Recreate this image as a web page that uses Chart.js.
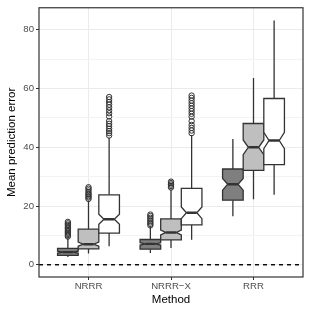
<!DOCTYPE html>
<html>
<head>
<meta charset="utf-8">
<script src="https://cdn.jsdelivr.net/npm/chart.js@4"></script>
<style>
  html, body { margin: 0; padding: 0; background: #fff; }
  #wrap { width: 310px; height: 310px; }
</style>
</head>
<body>
<div id="wrap"><canvas id="chart"></canvas></div>
<script>
// Notched boxplots, three fill groups per method

const methods = ['NRRR', 'NRRR\u2212X', 'RRR'];
const yTicks = [0, 10, 20, 30, 40, 50, 60, 70, 80];

// one row per fill group (dark, light, white), one value per method
const whiskerLow  = [[2.6, 4.0, 16.5], [3.8, 5.7, 22.3], [6.3, 8.5, 23.8]];
const lowerHinge  = [[3.2, 5.3, 22.0], [5.4, 8.5, 32.1], [10.8, 13.6, 34.1]];
const medians     = [[4.3, 7.1, 27.4], [7.0, 11.0, 40.0], [15.5, 17.7, 42.3]];
const upperHinge  = [[5.6, 8.6, 32.6], [12.1, 15.6, 48.1], [23.8, 26.0, 56.6]];
const whiskerHigh = [[9.2, 13.0, 42.8], [21.8, 25.5, 63.6], [43.2, 44.2, 83.2]];
const notchHalf   = [[0.3, 0.4, 2.0], [0.7, 0.8, 2.5], [1.7, 2.0, 2.8]];

const outliersDark  = [[9.6, 10.1, 10.5, 10.9, 11.4, 11.8, 12.3, 12.7, 13.2, 13.6, 14.1, 14.6],
                       [13.4, 13.9, 14.4, 14.9, 15.5, 16.0, 16.6, 17.1], []];
const outliersLight = [[22.4, 22.9, 23.3, 23.8, 24.2, 24.7, 25.3, 25.9, 26.4],
                       [26.3, 26.8, 27.3, 27.8, 28.3], []];
const outliersWhite = [[44.0, 44.8, 45.5, 46.3, 47.2, 48.0, 48.9, 50.5, 51.6, 52.6, 53.6, 54.5, 55.4, 56.3, 57.1],
                       [44.8, 45.7, 46.6, 47.6, 48.9, 50.4, 51.4, 52.3, 53.2, 54.1, 55.0, 55.9, 56.8, 57.6], []];
const outliers = [outliersDark, outliersLight, outliersWhite];

const fills = ['#7f7f7f', '#bfbfbf', '#ffffff'];
const dodge = [-0.25, 0, 0.25];
const boxWidth = 0.25;
const ink = '#333333';
const fontFamily = '"Liberation Sans", Arial, Helvetica, sans-serif';

const boxPlugin = {
    id: 'boxes',
    beforeDatasetsDraw(chart) {
        const { ctx, chartArea, scales: { x, y } } = chart;
        ctx.save();
        ctx.beginPath();
        ctx.rect(chartArea.left, chartArea.top, chartArea.width, chartArea.height);
        ctx.clip();
        ctx.strokeStyle = ink;
        for (let g = 0; g < fills.length; g++) {
            for (let m = 0; m < methods.length; m++) {
                const c = m + 1 + dodge[g];
                const xc = x.getPixelForValue(c);
                const x0 = x.getPixelForValue(c - boxWidth / 2);
                const x1 = x.getPixelForValue(c + boxWidth / 2);
                const indent = (x1 - x0) * 0.25;
                const yWl = y.getPixelForValue(whiskerLow[g][m]);
                const yQ1 = y.getPixelForValue(lowerHinge[g][m]);
                const yMed = y.getPixelForValue(medians[g][m]);
                const yQ3 = y.getPixelForValue(upperHinge[g][m]);
                const yWh = y.getPixelForValue(whiskerHigh[g][m]);
                const yNl = y.getPixelForValue(medians[g][m] - notchHalf[g][m]);
                const yNu = y.getPixelForValue(medians[g][m] + notchHalf[g][m]);

                // whiskers
                ctx.lineWidth = 1.3;
                ctx.beginPath();
                ctx.moveTo(xc, yQ3); ctx.lineTo(xc, yWh);
                ctx.moveTo(xc, yQ1); ctx.lineTo(xc, yWl);
                ctx.stroke();

                // notched box
                ctx.beginPath();
                ctx.moveTo(x0, yQ3);
                ctx.lineTo(x0, yNu);
                ctx.lineTo(x0 + indent, yMed);
                ctx.lineTo(x0, yNl);
                ctx.lineTo(x0, yQ1);
                ctx.lineTo(x1, yQ1);
                ctx.lineTo(x1, yNl);
                ctx.lineTo(x1 - indent, yMed);
                ctx.lineTo(x1, yNu);
                ctx.lineTo(x1, yQ3);
                ctx.closePath();
                ctx.fillStyle = fills[g];
                ctx.fill();
                ctx.stroke();

                // median
                ctx.lineWidth = 2.4;
                ctx.beginPath();
                ctx.moveTo(x0 + indent, yMed);
                ctx.lineTo(x1 - indent, yMed);
                ctx.stroke();
            }
        }
        ctx.restore();
    },
    afterDatasetsDraw(chart) {
        const { ctx, chartArea, scales: { y } } = chart;
        const y0 = y.getPixelForValue(0);
        ctx.save();
        ctx.strokeStyle = '#000';
        ctx.lineWidth = 1.4;
        ctx.setLineDash([4, 4]);
        ctx.beginPath();
        ctx.moveTo(chartArea.left, y0);
        ctx.lineTo(chartArea.right, y0);
        ctx.stroke();
        ctx.restore();
    },
    afterDraw(chart) {
        const { ctx, chartArea } = chart;
        ctx.save();
        ctx.strokeStyle = ink;
        ctx.lineWidth = 1.2;
        ctx.strokeRect(chartArea.left, chartArea.top, chartArea.width, chartArea.height);
        ctx.restore();
    }
};

const datasets = outliers.map(function(group, g) {
    const pts = [];
    group.forEach(function(vals, m) {
        vals.forEach(function(v) { pts.push({ x: m + 1 + dodge[g], y: v }); });
    });
    return {
        data: pts,
        pointStyle: 'circle',
        pointRadius: 2.7,
        borderWidth: 1,
        borderColor: ink,
        backgroundColor: 'rgba(255,255,255,0)'
    };
});

new Chart(document.getElementById('chart'), {
    type: 'scatter',
    data: { datasets: datasets },
    plugins: [boxPlugin],
    options: {
        responsive: true,
        maintainAspectRatio: false,
        animation: false,
        layout: { padding: { top: 6, right: 7, left: 0, bottom: 0 } },
        plugins: { legend: { display: false }, tooltip: { enabled: false } },
        scales: {
            x: {
                type: 'linear',
                min: 0.4,
                max: 3.6,
                afterBuildTicks: function(scale) {
                    scale.ticks = methods.map(function(_, i) { return { value: i + 1 }; });
                },
                afterFit: function(scale) { scale.height = 33; },
                border: { display: false },
                grid: { color: '#ebebeb', lineWidth: 1, tickColor: ink, tickLength: 3 },
                ticks: {
                    callback: function(v) { return methods[v - 1]; },
                    color: '#4d4d4d',
                    font: { family: fontFamily, size: 9.6 },
                    padding: 1,
                    maxRotation: 0
                },
                title: {
                    display: true,
                    text: 'Method',
                    color: '#000',
                    font: { family: fontFamily, size: 11.5 },
                    padding: { top: 0, bottom: 3 }
                }
            },
            y: {
                min: -4.17,
                max: 87.5,
                afterBuildTicks: function(scale) {
                    scale.ticks = yTicks.map(function(v) { return { value: v }; });
                },
                afterFit: function(scale) { scale.width = 39; },
                border: { display: false },
                grid: {
                    color: function(c) { return c.tick && c.tick.value % 20 === 0 ? '#ebebeb' : '#f3f3f3'; },
                    lineWidth: 1,
                    tickColor: function(c) { return c.tick && c.tick.value % 20 === 0 ? ink : 'rgba(0,0,0,0)'; },
                    tickLength: 3
                },
                ticks: {
                    callback: function(v) { return v % 20 === 0 ? v : ''; },
                    color: '#4d4d4d',
                    font: { family: fontFamily, size: 9.6 },
                    padding: 2
                },
                title: {
                    display: true,
                    text: 'Mean prediction error',
                    color: '#000',
                    font: { family: fontFamily, size: 11.5 },
                    padding: { top: 5, bottom: 0 }
                }
            }
        }
    }
});
</script>
</body>
</html>
